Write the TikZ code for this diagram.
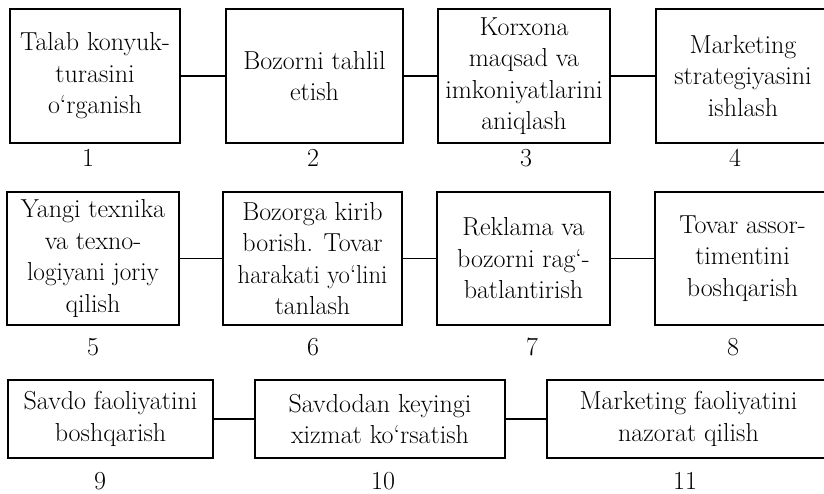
\documentclass[tikz,border=0pt]{standalone}
\usepackage{tikz}

\begin{document}
\begin{tikzpicture}[x=1pt, y=-1pt, line width=1.4pt,
  box/.style={draw, rectangle, align=center, inner sep=0pt,
    font=\fontsize{26}{31.5}\selectfont},
  num/.style={inner sep=0pt, font=\fontsize{26}{31.5}\selectfont}]

\useasboundingbox (0,0) rectangle (824,493);

% first row
\node[box, minimum width=170, minimum height=134] (b1) at (95,76)
  {Talab konyuk-\\turasini\\o‘rganish};
\node[box, minimum width=177, minimum height=134] (b2) at (314.5,76)
  {Bozorni tahlil\\etish};
\node[box, minimum width=172, minimum height=134] (b3) at (524,76)
  {Korxona\\maqsad va\\imkoniyatlarini\\aniqlash};
\node[box, minimum width=174, minimum height=134] (b4) at (743,76)
  {Marketing\\strategiyasini\\ishlash};

\node[num] (n1) at (88,158) {1};
\node[num] (n2) at (313,158) {2};
\node[num] (n3) at (526,158) {3};
\node[num] (n4) at (735,158) {4};

\draw (b1) -- (b2);
\draw (b2) -- (b3);
\draw (b3) -- (b4);

% second row
\node[box, minimum width=172, minimum height=133] (b5) at (93,258.5)
  {Yangi texnika\\va texno-\\\scalebox{0.97}[1]{logiyani joriy}\\qilish};
\node[box, minimum width=179, minimum height=133] (b6) at (312.5,258.5)
  {Bozorga kirib\\borish. Tovar\\\scalebox{0.95}[1]{harakati yo‘lini}\\tanlash};
\node[box, minimum width=173, minimum height=133] (b7) at (523.5,258.5)
  {Reklama va\\bozorni rag‘-\\batlantirish};
\node[box, minimum width=175, minimum height=133] (b8) at (742.5,258.5)
  {Tovar assor-\\timentini\\boshqarish};

\node[num] (n5) at (93,347) {5};
\node[num] (n6) at (313,347) {6};
\node[num] (n7) at (532,347) {7};
\node[num] (n8) at (733,347) {8};

\draw (b5) -- (b6);
\draw (b6) -- (b7);
\draw (b7) -- (b8);

% third row
\node[box, minimum width=205, minimum height=78] (b9) at (110.5,419)
  {Savdo faoliyatini\\boshqarish};
\node[box, minimum width=250, minimum height=78] (b10) at (380,419)
  {Savdodan keyingi\\xizmat ko‘rsatish};
\node[box, minimum width=283, minimum height=78] (b11) at (688.5,419)
  {Marketing faoliyatini\\nazorat qilish};

\node[num] (n9) at (100,481) {9};
\node[num] (n10) at (383,481) {10};
\node[num] (n11) at (685,481) {11};

\draw (b9) -- (b10);
\draw (b10) -- (b11);

\end{tikzpicture}
\end{document}
